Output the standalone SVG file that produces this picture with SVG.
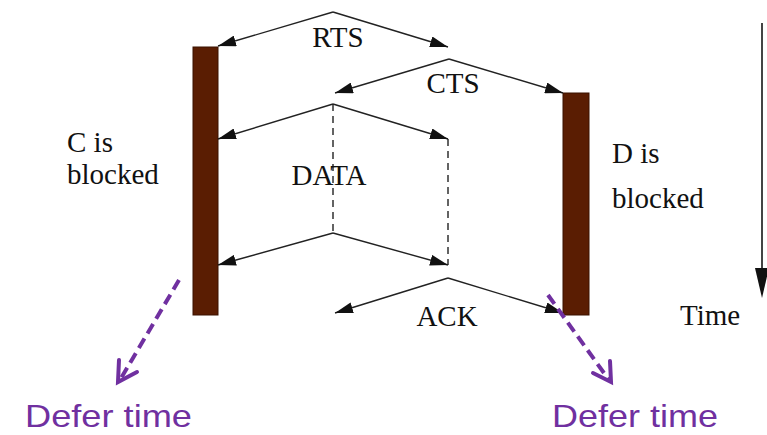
<svg xmlns="http://www.w3.org/2000/svg" width="767" height="435" viewBox="0 0 767 435">
<defs>
<style>
.lbl{font-family:"Liberation Serif","Times New Roman",serif;font-size:29px;fill:#111}
.msg{fill:none;stroke:#222;stroke-width:1.4}
.dash{fill:none;stroke:#222;stroke-width:1.4;stroke-dasharray:7 5}
.bar{fill:#5a1d02;stroke:#3a1200;stroke-width:1}
.defer{fill:none;stroke:#7030a0;stroke-width:4;stroke-dasharray:11 6}
.head{fill:none;stroke:#7030a0;stroke-width:4;stroke-linecap:round;stroke-linejoin:miter}
.dt{font-family:"Liberation Sans",Arial,sans-serif;font-size:32px;fill:#7030a0}
</style>
<marker id="ah" viewBox="0 0 18 11" refX="18" refY="5.5" markerWidth="18" markerHeight="11" markerUnits="userSpaceOnUse" orient="auto">
<path d="M0,0 L18,5.5 L0,11 z" fill="#111"/>
</marker>
</defs>
<rect width="767" height="435" fill="#fff"/>
<g id="nodeC">
<rect class="bar" x="193" y="47" width="25" height="268"/>
<text class="lbl" x="67" y="152">C is</text>
<text class="lbl" x="67" y="184">blocked</text>
</g>
<g id="nodeD">
<rect class="bar" x="563" y="93" width="26" height="222"/>
<text class="lbl" x="612" y="163">D is</text>
<text class="lbl" x="612" y="208">blocked</text>
</g>
<g id="time">
<line x1="762" y1="23" x2="762" y2="272" stroke="#444" stroke-width="2"/>
<path d="M755,268 L769,268 L762,298 z" fill="#111"/>
<text class="lbl" x="680" y="325">Time</text>
</g>
<g id="connectors">
<path class="msg" d="M333,12 L218,46" marker-end="url(#ah)"/>
<path class="msg" d="M333,12 L448,47" marker-end="url(#ah)"/>
<path class="msg" d="M449,59 L335,93" marker-end="url(#ah)"/>
<path class="msg" d="M449,59 L563,93" marker-end="url(#ah)"/>
<path class="msg" d="M333,104 L218,139" marker-end="url(#ah)"/>
<path class="msg" d="M333,104 L448,139" marker-end="url(#ah)"/>
<path class="dash" d="M333,104 L333,233"/>
<path class="dash" d="M448,139 L448,265"/>
<path class="msg" d="M333,233 L218,265" marker-end="url(#ah)"/>
<path class="msg" d="M333,233 L448,265" marker-end="url(#ah)"/>
<path class="msg" d="M448,278 L335,313" marker-end="url(#ah)"/>
<path class="msg" d="M448,278 L563,313" marker-end="url(#ah)"/>
<path class="defer" d="M179,280 L120,380"/>
<path class="head" d="M119,360 L118,382 L137,372"/>
<path class="defer" d="M548,295 L609,380"/>
<path class="head" d="M593,373 L611,382 L610,361"/>
</g>
<g id="labels">
<text class="lbl" x="338" y="47" text-anchor="middle">RTS</text>
<text class="lbl" x="453" y="93" text-anchor="middle">CTS</text>
<text class="lbl" x="329" y="185" text-anchor="middle">DATA</text>
<text class="lbl" x="447" y="326" text-anchor="middle">ACK</text>
</g>
<g id="defer">
<text class="dt" x="25" y="427" textLength="167" lengthAdjust="spacingAndGlyphs">Defer time</text>
<text class="dt" x="552" y="427" textLength="166" lengthAdjust="spacingAndGlyphs">Defer time</text>
</g>
</svg>
